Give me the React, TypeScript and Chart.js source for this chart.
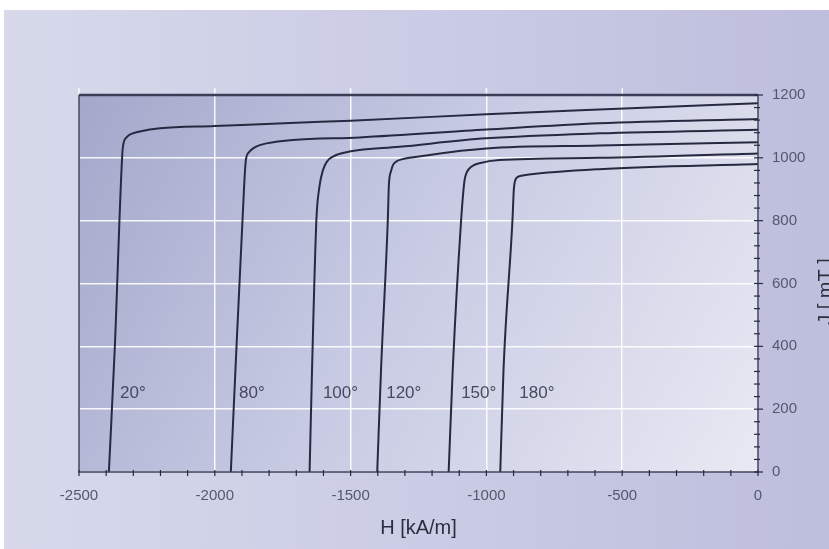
import React, { useEffect, useRef } from "react";
import { Chart, registerables } from "chart.js";

Chart.register(...registerables);

// Demagnetization curves J(H) of a magnet grade at six temperatures
const temperatures = ["20°", "80°", "100°", "120°", "150°", "180°"];

const h20 = [-2390, -2368, -2340, -2335, -2324, -2305, -2276, -2202, -2000, -1700, -1500, -1000, -585, 0];
const j20 = [0, 400, 1020, 1050, 1066, 1077, 1084, 1094, 1101, 1112, 1118, 1139, 1154, 1174];

const h80 = [-1941, -1924, -1898, -1886, -1875, -1859, -1842, -1810, -1713, -1467, -1000, -585, 0];
const j80 = [0, 325, 802, 990, 1017, 1030, 1038, 1046, 1057, 1065, 1090, 1110, 1124];

const h100 = [-1651, -1642, -1626, -1614, -1602, -1588, -1565, -1504, -1320, -1001, -585, 0];
const j100 = [0, 325, 802, 912, 960, 987, 1004, 1020, 1035, 1062, 1078, 1089];

const h120 = [-1402, -1388, -1363, -1359, -1351, -1344, -1332, -1313, -1283, -1001, -585, 0];
const j120 = [0, 325, 802, 914, 958, 977, 988, 995, 1000, 1030, 1039, 1050];

const h150 = [-1139, -1124, -1093, -1081, -1074, -1063, -1048, -1026, -952, -585, 0];
const j150 = [0, 325, 802, 925, 950, 966, 976, 983, 993, 1000, 1014];

const h180 = [-949, -937, -904, -899, -895, -888, -876, -850, -585, 0];
const j180 = [0, 325, 802, 900, 925, 937, 942, 946, 964, 980];

// Where each temperature tag sits (H in kA/m, J in mT)
const tagH = [-2349, -1911, -1602, -1369, -1093, -879];
const tagJ = 250;

const xTicks = [-2500, -2000, -1500, -1000, -500, 0];
const yTicks = [0, 200, 400, 600, 800, 1000, 1200];
const xMinorStep = 100;
const yMinorStep = 40;

const xTitle = "H [kA/m]";
const yTitle = "J [ mT ]";

const curvesH = [h20, h80, h100, h120, h150, h180];
const curvesJ = [j20, j80, j100, j120, j150, j180];

const W = 829;
const H = 549;
const INK = "#262a40";
const FONT = "'Liberation Sans', Arial, sans-serif";

const backdrop = {
  id: "backdrop",
  beforeDraw(chart: any) {
    const { ctx, chartArea: a } = chart;
    ctx.save();
    ctx.fillStyle = "#ffffff";
    ctx.fillRect(0, 0, W, H);
    const pg = ctx.createLinearGradient(4, 0, W, 0);
    pg.addColorStop(0, "#d7d9eb");
    pg.addColorStop(0.5, "#cbcce5");
    pg.addColorStop(1, "#bebedd");
    ctx.fillStyle = pg;
    ctx.fillRect(4, 10, W - 4, H - 10);
    const g = ctx.createLinearGradient(a.left, a.top, a.right, a.bottom);
    g.addColorStop(0, "#a3a8cb");
    g.addColorStop(0.45, "#c6c9e2");
    g.addColorStop(1, "#e8e9f3");
    ctx.fillStyle = g;
    ctx.fillRect(a.left, a.top, a.right - a.left, a.bottom - a.top);
    ctx.restore();
  },
};

const frame = {
  id: "frame",
  afterDraw(chart: any) {
    const { ctx, chartArea: a, scales } = chart;
    const xs = scales.x;
    const ys = scales.y;
    ctx.save();

    // white grid stubs above the top edge
    ctx.strokeStyle = "rgba(255,255,255,0.9)";
    ctx.lineWidth = 1.5;
    for (const v of xTicks.slice(0, -1)) {
      const px = xs.getPixelForValue(v);
      ctx.beginPath();
      ctx.moveTo(px, a.top - 7);
      ctx.lineTo(px, a.top);
      ctx.stroke();
    }

    // frame
    ctx.strokeStyle = "#3a3e56";
    ctx.lineWidth = 2.5;
    ctx.beginPath();
    ctx.moveTo(a.left, a.top);
    ctx.lineTo(a.right, a.top);
    ctx.stroke();
    ctx.lineWidth = 1.5;
    ctx.beginPath();
    ctx.moveTo(a.left, a.top);
    ctx.lineTo(a.left, a.bottom);
    ctx.lineTo(a.right, a.bottom);
    ctx.lineTo(a.right, a.top);
    ctx.stroke();

    // tick marks
    ctx.lineWidth = 1.2;
    ctx.strokeStyle = INK;
    for (let v = xTicks[0]; v <= xTicks[xTicks.length - 1]; v += xMinorStep) {
      const px = xs.getPixelForValue(v);
      ctx.beginPath();
      ctx.moveTo(px, a.bottom - 2);
      ctx.lineTo(px, a.bottom + 4);
      ctx.stroke();
    }
    for (let v = yTicks[0]; v <= yTicks[yTicks.length - 1]; v += yMinorStep) {
      const py = ys.getPixelForValue(v);
      const major = yTicks.includes(v);
      ctx.beginPath();
      ctx.moveTo(a.right - 4, py);
      ctx.lineTo(a.right + (major ? 5 : 2), py);
      ctx.stroke();
    }

    // temperature tags
    ctx.fillStyle = "#474a5e";
    ctx.font = `17px ${FONT}`;
    ctx.textAlign = "left";
    ctx.textBaseline = "middle";
    temperatures.forEach((t, i) => {
      ctx.fillText(t, xs.getPixelForValue(tagH[i]), ys.getPixelForValue(tagJ));
    });

    // axis titles
    ctx.fillStyle = "#2c2e3e";
    ctx.font = `20px ${FONT}`;
    ctx.textAlign = "center";
    ctx.textBaseline = "middle";
    ctx.fillText(xTitle, (a.left + a.right) / 2, 528);
    ctx.translate(832, (a.top + a.bottom) / 2 + 8);
    ctx.rotate(-Math.PI / 2);
    ctx.textBaseline = "alphabetic";
    ctx.fillText(yTitle, 0, 0);
    ctx.restore();
  },
};

export default function App() {
  const ref = useRef<HTMLCanvasElement | null>(null);

  useEffect(() => {
    if (!ref.current) return;
    const chart = new Chart(ref.current, {
      type: "line",
      data: {
        datasets: curvesH.map((hs, i) => ({
          label: temperatures[i],
          data: hs.map((h, k) => ({ x: h, y: curvesJ[i][k] })),
          borderColor: INK,
          borderWidth: 2,
          pointRadius: 0,
          fill: false,
          cubicInterpolationMode: "monotone" as const,
        })),
      },
      options: {
        responsive: false,
        animation: false,
        layout: { padding: { left: 79, top: 95, right: 0, bottom: 0 } },
        plugins: { legend: { display: false }, tooltip: { enabled: false } },
        scales: {
          x: {
            type: "linear",
            min: xTicks[0],
            max: xTicks[xTicks.length - 1],
            afterBuildTicks: (s: any) => {
              s.ticks = xTicks.map((v) => ({ value: v }));
            },
            afterFit: (s: any) => {
              s.height = 77;
            },
            grid: {
              color: "rgba(255,255,255,0.9)",
              lineWidth: 1.5,
              drawTicks: false,
            },
            border: { display: false },
            ticks: {
              padding: 15,
              color: "#55586b",
              font: { family: FONT, size: 15 },
              callback: (v: any) => String(v),
            },
          },
          y: {
            type: "linear",
            position: "right",
            min: yTicks[0],
            max: yTicks[yTicks.length - 1],
            afterBuildTicks: (s: any) => {
              s.ticks = yTicks.map((v) => ({ value: v }));
            },
            afterFit: (s: any) => {
              s.width = 71;
            },
            grid: {
              color: "rgba(255,255,255,0.9)",
              lineWidth: 1.5,
              drawTicks: false,
            },
            border: { display: false },
            ticks: {
              padding: 14,
              color: "#55586b",
              font: { family: FONT, size: 15 },
              callback: (v: any) => String(v),
            },
          },
        },
      },
      plugins: [backdrop, frame],
    });
    return () => chart.destroy();
  }, []);

  return (
    <div style={{ position: "fixed", left: 0, top: 0, width: W, height: H }}>
      <canvas ref={ref} width={W} height={H} style={{ display: "block", width: W, height: H }} />
    </div>
  );
}
